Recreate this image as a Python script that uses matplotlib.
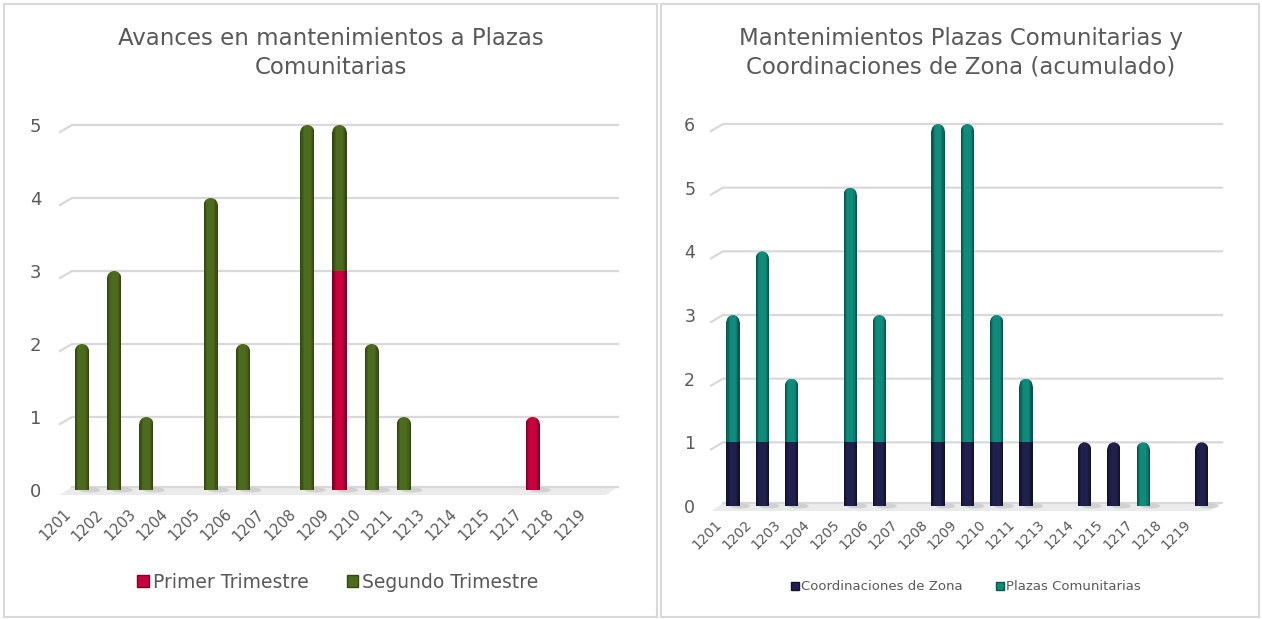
import numpy as np
import matplotlib
matplotlib.use("Agg")
import matplotlib.pyplot as plt
from matplotlib.patches import Rectangle, Ellipse, Patch, Polygon
from matplotlib.colors import LinearSegmentedColormap
from matplotlib.transforms import ScaledTranslation

# ---- data ----
zonas = ["1201", "1202", "1203", "1204", "1205", "1206", "1207", "1208", "1209",
         "1210", "1211", "1213", "1214", "1215", "1217", "1218", "1219"]

primer_trim = [0, 0, 0, 0, 0, 0, 0, 0, 3, 0, 0, 0, 0, 0, 1, 0, 0]
segundo_trim = [2, 3, 1, 0, 4, 2, 0, 5, 2, 2, 1, 0, 0, 0, 0, 0, 0]

coord_zona = [1, 1, 1, 0, 1, 1, 0, 1, 1, 1, 1, 0, 1, 1, 0, 0, 1]
plazas_com = [2, 3, 1, 0, 4, 2, 0, 5, 5, 2, 1, 0, 0, 0, 1, 0, 0]

W, H = 1262, 619
TXT = "#595959"
GRID = "#d9d9d9"

RED = ("#c8003c", "#7e0026")
GREEN = ("#4d6b1e", "#33480f")
NAVY = ("#20204c", "#111130")
TEAL = ("#0f8a7b", "#07574d")

NSTRIP = 12


def fx(px):
    return px / W


def fy(py):
    return 1 - py / H


def cyl_cmap(base, dark):
    return LinearSegmentedColormap.from_list(
        "c", [(0, dark), (0.25, base), (0.75, base), (1, dark)])


def strips(ax, xc, bw, y0, y1, cmap, clip=None):
    sw = bw / NSTRIP
    xs = xc - bw / 2 + sw * (np.arange(NSTRIP) + 0.5)
    cols = cmap(np.linspace(0, 1, NSTRIP))
    bars = ax.bar(xs, y1 - y0, width=sw * 1.05, bottom=y0, color=cols,
                  linewidth=0, zorder=3)
    if clip is not None:
        clip.set_transform(ax.transData)
        for b in bars:
            b.set_clip_path(clip)


def draw_panel(ax, series, colors, ymax, bw, cap_px, ax_px):
    n = len(zonas)
    ax_w_px, ax_h_px = ax_px
    ppu = ax_h_px / ymax
    cap = cap_px / ppu
    xlo, xhi = ax.get_xlim()

    # gridlines with slanted 3D left end
    sl_x, sl_y = 12 / ax_w_px, 7 / ppu
    tr = ax.get_yaxis_transform()
    for v in range(1, ymax + 1):
        ax.plot([-sl_x, 0, 1], [v - sl_y, v, v], color=GRID, lw=1.6,
                transform=tr, clip_on=False, zorder=1)
    # floor
    f_top, f_bot = 3 / ppu, 5 / ppu
    floor = Polygon([(0, f_top), (1, f_top), (1 - sl_x, -f_bot), (-sl_x, -f_bot)],
                    closed=True, transform=tr, fc="#ebebeb", ec="none",
                    clip_on=False, zorder=1)
    ax.add_patch(floor)
    ax.plot([0, 1], [f_top, f_top], color=GRID, lw=1.6, transform=tr,
            clip_on=False, zorder=1)

    cmaps = [cyl_cmap(*c) for c in colors]
    for i in range(n):
        total = sum(s[i] for s in series)
        if total == 0:
            continue
        # base shadow
        ax.add_patch(Ellipse((i + bw * 0.55, 0), bw * 1.5, 5 / ppu, fc="#a0a0a0",
                             ec="none", alpha=0.35, zorder=2, clip_on=False))
        bottom = 0
        for s, cm in zip(series, cmaps):
            v = s[i]
            if v == 0:
                continue
            top = bottom + v
            is_top = abs(top - total) < 1e-9
            rtop = top - cap if is_top else top
            strips(ax, i, bw, bottom, rtop, cm)
            if is_top:
                ell = Ellipse((i, top - cap), bw, 2 * cap)
                strips(ax, i, bw, top - 2 * cap, top, cm, clip=ell)
            bottom = top

    ax.set_xlim(xlo, xhi)
    ax.set_ylim(0, ymax)
    ax.set_xticks(range(n))
    ax.set_yticks(range(0, ymax + 1))
    for sp in ax.spines.values():
        sp.set_visible(False)


fig = plt.figure(figsize=(W / 100, H / 100), dpi=100)

# panel borders
for x0, x1 in [(4, 657), (661, 1259)]:
    fig.patches.append(Rectangle((fx(x0), fy(617)), fx(x1) - fx(x0), fy(4) - fy(617),
                                 transform=fig.transFigure, fill=False,
                                 ec="#d9d9d9", lw=1.5))

off = ScaledTranslation(-8 / 100, 0, fig.dpi_scale_trans)

# ---- left panel ----
axL = fig.add_axes([fx(72), fy(490), fx(618) - fx(72), fy(125) - fy(490)])
axL.set_xlim(-0.31, 16.65)
draw_panel(axL, [primer_trim, segundo_trim], [RED, GREEN], 5, 0.44, 7,
           (618 - 72, 490 - 125))
axL.set_xticklabels(zonas, rotation=45, ha="right", fontsize=10.5, color=TXT)
axL.tick_params(axis="x", length=0, pad=12)
axL.tick_params(axis="y", length=0, pad=22, labelsize=13, labelcolor=TXT)
for lab in axL.get_xticklabels():
    lab.set_transform(lab.get_transform() + off)

fig.text(fx(331), fy(53), "Avances en mantenimientos a Plazas\nComunitarias",
         ha="center", va="center", fontsize=16.5, color=TXT, linespacing=1.3)
fig.legend(handles=[Patch(fc=RED[0], ec=RED[1]), Patch(fc=GREEN[0], ec=GREEN[1])],
           labels=["Primer Trimestre", "Segundo Trimestre"], loc="center",
           bbox_to_anchor=(fx(338), fy(582)), ncol=2, frameon=False, fontsize=13.5,
           handlelength=0.6, handleheight=0.6, handletextpad=0.25,
           columnspacing=2.0, labelcolor=TXT)

# ---- right panel ----
axR = fig.add_axes([fx(723), fy(506), fx(1222) - fx(723), fy(124) - fy(506)])
axR.set_xlim(-0.34, 16.69)
draw_panel(axR, [coord_zona, plazas_com], [NAVY, TEAL], 6, 0.45, 7,
           (1222 - 723, 506 - 124))
axR.set_xticklabels(zonas, rotation=45, ha="right", fontsize=10, color=TXT)
axR.tick_params(axis="x", length=0, pad=8)
axR.tick_params(axis="y", length=0, pad=20, labelsize=12.5, labelcolor=TXT)
for lab in axR.get_xticklabels():
    lab.set_transform(lab.get_transform() + off)

fig.text(fx(961), fy(53), "Mantenimientos Plazas Comunitarias y\nCoordinaciones de Zona (acumulado)",
         ha="center", va="center", fontsize=16.5, color=TXT, linespacing=1.3)
fig.legend(handles=[Patch(fc=NAVY[0], ec=NAVY[1]), Patch(fc=TEAL[0], ec=TEAL[1])],
           labels=["Coordinaciones de Zona", "Plazas Comunitarias"], loc="center",
           bbox_to_anchor=(fx(966), fy(587)), ncol=2, frameon=False, fontsize=9.5,
           handlelength=0.6, handleheight=0.6, handletextpad=0.15,
           columnspacing=2.5, labelcolor=TXT)

fig.savefig("out.png", dpi=100)
